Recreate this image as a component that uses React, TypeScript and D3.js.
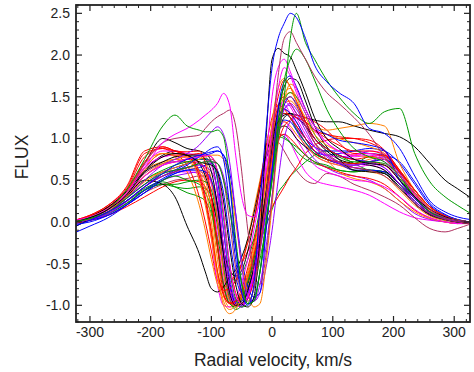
import React from "react";
import * as d3 from "d3";

const VELOCITY = [-325,-300,-270,-240,-210,-180,-160,-140,-120,-110,-100,-90,-80,-70,-60,-50,-40,-30,-20,-10,0,10,20,30,40,55,70,90,110,135,160,185,210,235,260,285,305,325];

const X_TICKS = [-300,-200,-100,0,100,200,300];
const X_TICK_LABELS = ["-300","-200","-100","0","100","200","300"];
const Y_TICKS = [-1.0,-0.5,0.0,0.5,1.0,1.5,2.0,2.5];
const Y_TICK_LABELS = ["-1.0","-0.5","0.0","0.5","1.0","1.5","2.0","2.5"];

const blueTall = [-0.05,0.02,0.12,0.25,0.42,0.58,0.68,0.75, 0.8,0.82,0.84,0.85,0.8,0.45,-0.3,-0.85,-1.0,-0.75,0.2,1.1,1.85,2.2, 2.38,2.5,2.45,2.2,1.88,1.68,1.55,1.42,1.12,1.06,0.88,0.55,0.25,0.12,0.06,0.03];
const greenTall = [0.0,0.04,0.12,0.28,0.45,0.58,0.62,0.65, 0.7,0.72,0.72,0.7,0.5,0.15,-0.3,-0.75,-0.98,-0.95,-0.6,0.0,0.5,1.0, 1.5,2.2,2.5,2.15,1.95,1.7,1.5,1.3,1.18,1.32,1.36,0.82,0.48,0.3,0.2,0.11];
const maroonTall = [0.0,0.03,0.12,0.25,0.42,0.55,0.6,0.65, 0.7,0.72,0.75,0.7,0.5,0.0,-0.55,-0.85,-0.95,-0.8,-0.35,0.3,1.0,1.75, 2.2,2.28,2.15,1.95,1.75,1.55,1.42,1.25,1.05,0.78,0.55,0.35,0.15,0.05,0.02,0.0];
const greenBump = [0.0,0.05,0.15,0.38,0.75,1.15,1.28,1.15, 1.1,1.08,1.08,1.1,1.02,0.5,-0.2,-0.75,-0.98,-0.95,-0.6,0.0,0.5,1.2, 1.7,1.95,2.07,1.95,1.7,1.35,1.1,0.88,0.78,0.72,0.55,0.3,0.12,0.05,0.02,0.0];
const blackTall = [0.0,0.05,0.15,0.32,0.6,0.78,0.82,0.8, 0.72,0.7,0.68,0.6,0.25,-0.3,-0.75,-0.98,-1.02,-0.9,-0.2,1.0,1.95,2.08, 2.02,1.98,1.82,1.55,1.25,1.0,0.88,0.75,0.7,0.68,0.5,0.3,0.15,0.06,0.02,0.0];
const magentaTall = [0.02,0.06,0.16,0.32,0.55,0.68,0.72,0.75, 0.78,0.8,0.78,0.6,0.1,-0.5,-0.88,-0.98,-0.9,-0.6,-0.1,0.7,1.5,1.85, 1.95,1.8,1.6,1.35,1.15,0.95,0.85,0.8,0.82,0.75,0.55,0.32,0.15,0.06,0.02,0.0];
const magentaLeft = [0.0,0.05,0.14,0.35,0.65,0.95,1.05,1.12, 1.22,1.28,1.34,1.42,1.54,1.4,0.8,0.3,0.08,0.06,0.25,0.6,1.1,1.6, 1.85,1.75,1.55,1.3,1.1,0.95,0.85,0.78,0.8,0.72,0.5,0.28,0.12,0.05,0.02,0.0];
const maroonLeft = [0.0,0.04,0.12,0.32,0.7,0.95,1.0,1.02, 1.04,1.12,1.2,1.26,1.3,1.34,1.15,0.6,-0.1,-0.6,-0.75,-0.4,0.3,1.0, 1.45,1.5,1.4,1.15,0.95,0.82,0.72,0.65,0.62,0.55,0.4,0.22,0.1,0.03,0.0,-0.02];
const violetLeft = [0.0,0.03,0.12,0.28,0.5,0.68,0.75,0.82, 0.92,1.0,1.08,1.14,1.05,0.72,0.1,-0.55,-0.88,-0.95,-0.75,-0.3,0.3,1.0, 1.35,1.4,1.3,1.1,0.9,0.78,0.7,0.68,0.7,0.65,0.45,0.25,0.1,0.04,0.01,0.0];
const blue2 = [-0.13,-0.05,0.05,0.2,0.38,0.52,0.6,0.68, 0.78,0.83,0.88,0.9,0.75,0.2,-0.45,-0.85,-0.98,-0.92,-0.6,-0.1,0.6,1.35, 1.68,1.75,1.62,1.35,1.15,1.05,0.98,0.95,0.92,0.86,0.5,0.28,0.12,0.05,0.02,0.0];
const blue3 = [0.0,0.05,0.12,0.28,0.45,0.6,0.65,0.7, 0.78,0.8,0.82,0.85,0.8,0.6,0.1,-0.45,-0.78,-0.9,-0.85,-0.1,0.6,1.1, 1.4,1.5,1.42,1.2,1.0,0.88,0.8,0.75,0.72,0.75,0.6,0.38,0.18,0.07,0.02,0.0];
const blue4 = [-0.03,0.0,0.08,0.2,0.35,0.5,0.58,0.62, 0.62,0.6,0.5,0.2,-0.35,-0.8,-0.97,-0.95,-0.8,-0.55,-0.2,0.3,0.95,1.25, 1.35,1.3,1.2,1.0,0.85,0.75,0.7,0.62,0.62,0.6,0.45,0.25,0.1,0.03,0.0,-0.01];
const blue5 = [0.0,0.03,0.1,0.25,0.42,0.55,0.62,0.7, 0.75,0.75,0.72,0.5,-0.1,-0.7,-0.98,-1.02,-0.9,-0.65,-0.3,0.15,0.75,1.2, 1.3,1.25,1.15,1.0,0.9,0.85,0.85,0.85,0.82,0.8,0.72,0.48,0.22,0.09,0.03,0.0];
const blue6 = [0.0,0.02,0.08,0.2,0.35,0.5,0.58,0.62, 0.65,0.68,0.7,0.62,0.35,-0.2,-0.65,-0.85,-0.85,-0.65,-0.3,0.15,0.65,1.05, 1.22,1.2,1.1,0.95,0.85,0.8,0.82,0.85,0.88,0.85,0.7,0.45,0.2,0.08,0.03,0.0];
const green3 = [0.0,0.03,0.1,0.22,0.38,0.45,0.45,0.48, 0.5,0.48,0.38,0.0,-0.55,-0.92,-1.05,-1.0,-0.82,-0.55,-0.2,0.3,0.85,1.02, 1.0,0.95,0.9,0.8,0.72,0.68,0.62,0.6,0.62,0.6,0.45,0.28,0.12,0.05,0.02,0.0];
const green4 = [0.02,0.05,0.12,0.25,0.38,0.45,0.42,0.4, 0.42,0.4,0.3,-0.05,-0.55,-0.88,-0.95,-0.9,-0.72,-0.5,-0.25,-0.05,0.15,0.35, 0.45,0.55,0.62,0.72,0.8,0.85,0.8,0.7,0.62,0.6,0.45,0.28,0.12,0.05,0.02,0.0];
const green5 = [0.0,0.04,0.12,0.28,0.5,0.62,0.68,0.72, 0.75,0.76,0.72,0.55,0.05,-0.55,-0.92,-1.02,-0.98,-0.8,-0.45,-0.05,0.55,1.1, 1.45,1.55,1.5,1.3,1.05,0.88,0.78,0.72,0.72,0.7,0.52,0.3,0.12,0.05,0.02,0.0];
const green6 = [0.0,0.04,0.12,0.25,0.4,0.48,0.42,0.35, 0.3,0.25,0.1,-0.2,-0.5,-0.66,-0.7,-0.62,-0.45,-0.2,0.15,0.55,0.9,1.05, 1.02,0.95,0.85,0.75,0.7,0.66,0.62,0.6,0.62,0.6,0.45,0.25,0.1,0.04,0.01,0.0];
const green7 = [0.0,0.04,0.1,0.22,0.38,0.5,0.55,0.5, 0.45,0.35,0.15,-0.3,-0.75,-0.98,-1.02,-0.92,-0.72,-0.45,-0.1,0.35,0.9,1.2, 1.3,1.25,1.12,0.95,0.82,0.75,0.72,0.7,0.78,0.75,0.55,0.3,0.12,0.05,0.02,0.0];
const magenta3 = [0.02,0.06,0.16,0.35,0.68,0.85,0.85,0.82, 0.8,0.78,0.68,0.35,-0.3,-0.8,-1.0,-1.02,-0.9,-0.62,-0.25,0.25,0.85,1.3, 1.45,1.38,1.25,1.05,0.9,0.8,0.78,0.8,0.85,0.82,0.6,0.35,0.15,0.06,0.02,0.0];
const magentaLow = [0.0,0.05,0.15,0.3,0.45,0.55,0.6,0.6, 0.58,0.5,0.3,-0.15,-0.7,-0.95,-1.0,-0.92,-0.72,-0.45,-0.1,0.3,0.8,1.0, 1.05,0.95,0.8,0.6,0.5,0.45,0.42,0.38,0.32,0.22,0.12,0.05,0.02,0.0,-0.01,0.0];
const magenta4 = [0.0,0.06,0.18,0.38,0.65,0.78,0.8,0.78, 0.55,0.25,-0.2,-0.75,-1.0,-1.02,-0.92,-0.72,-0.45,-0.1,0.3,0.75,1.15,1.35, 1.4,1.3,1.15,0.95,0.8,0.72,0.68,0.65,0.68,0.62,0.45,0.25,0.1,0.04,0.01,0.0];
const magenta5 = [0.0,0.05,0.15,0.35,0.62,0.78,0.8,0.76, 0.7,0.62,0.45,0.05,-0.5,-0.88,-1.0,-0.98,-0.85,-0.6,-0.25,0.2,0.7,1.05, 1.2,1.12,1.0,0.82,0.68,0.6,0.55,0.5,0.48,0.42,0.3,0.15,0.05,0.0,-0.02,-0.02];
const violet2 = [0.0,0.03,0.1,0.25,0.42,0.55,0.6,0.65, 0.7,0.72,0.72,0.7,0.55,0.2,-0.3,-0.7,-0.9,-0.95,-0.85,-0.55,-0.1,0.5, 1.0,1.2,1.25,1.15,1.0,0.88,0.8,0.75,0.72,0.65,0.45,0.22,0.09,0.03,0.01,0.0];
const violet3 = [-0.02,0.02,0.1,0.22,0.38,0.5,0.55,0.58, 0.6,0.58,0.48,0.15,-0.4,-0.82,-0.98,-1.0,-0.88,-0.62,-0.3,0.15,0.7,1.15, 1.3,1.25,1.1,0.9,0.75,0.65,0.58,0.55,0.5,0.4,0.25,0.1,0.03,0.0,-0.02,-0.02];
const violet4 = [0.0,0.03,0.1,0.24,0.42,0.58,0.62,0.65, 0.68,0.66,0.6,0.4,-0.1,-0.65,-0.95,-1.0,-0.92,-0.7,-0.35,0.1,0.65,1.1, 1.35,1.42,1.35,1.15,0.95,0.8,0.72,0.68,0.72,0.78,0.58,0.32,0.12,0.04,0.01,0.0];
const redHigh = [0.02,0.08,0.2,0.4,0.82,0.88,0.85,0.84, 0.85,0.7,0.3,-0.3,-0.85,-0.98,-0.95,-0.8,-0.55,-0.25,0.1,0.55,1.1,1.5, 1.7,1.62,1.45,1.2,1.0,0.88,0.8,0.75,0.78,0.8,0.6,0.38,0.18,0.07,0.02,0.0];
const redSlow = [0.0,0.06,0.16,0.36,0.65,0.82,0.8,0.68, 0.3,0.0,-0.35,-0.7,-0.78,-0.75,-0.62,-0.5,-0.35,-0.22,-0.08,0.05,0.18,0.3, 0.42,0.55,0.65,0.82,0.92,0.98,1.0,1.0,0.98,0.86,0.62,0.38,0.18,0.07,0.02,0.0];
const red3 = [0.0,0.05,0.15,0.33,0.55,0.68,0.72,0.75, 0.72,0.6,0.3,-0.25,-0.75,-0.98,-1.0,-0.88,-0.65,-0.4,-0.1,0.25,0.6,0.95, 1.15,1.22,1.28,1.25,1.2,1.1,0.95,0.82,0.82,0.78,0.58,0.33,0.14,0.05,0.02,0.0];
const red4 = [0.02,0.06,0.16,0.36,0.72,0.9,0.85,0.8, 0.82,0.8,0.78,0.6,0.1,-0.5,-0.85,-0.98,-0.92,-0.7,-0.3,0.3,1.0,1.4, 1.5,1.42,1.3,1.2,1.1,1.05,1.02,1.0,0.95,0.85,0.62,0.38,0.18,0.07,0.02,0.0];
const red5 = [-0.02,0.02,0.08,0.18,0.3,0.42,0.48,0.5, 0.48,0.42,0.2,-0.3,-0.78,-0.97,-0.98,-0.88,-0.65,-0.38,-0.05,0.35,0.8,1.0, 1.05,1.0,0.92,0.8,0.72,0.65,0.6,0.55,0.52,0.45,0.3,0.14,0.05,0.0,-0.02,-0.01];
const red6 = [0.0,0.07,0.18,0.38,0.78,0.88,0.82,0.8, 0.6,0.3,-0.1,-0.6,-0.82,-0.8,-0.7,-0.5,-0.25,0.0,0.45,0.9,1.25,1.4, 1.35,1.25,1.15,1.0,0.85,0.75,0.72,0.7,0.72,0.68,0.5,0.28,0.12,0.05,0.02,0.0];
const red7 = [0.02,0.08,0.2,0.42,0.85,0.9,0.85,0.8, 0.55,0.25,-0.15,-0.6,-0.88,-0.97,-0.95,-0.85,-0.65,-0.4,-0.1,0.3,0.8,1.15, 1.3,1.28,1.25,1.2,1.1,1.0,0.92,0.85,0.85,0.8,0.6,0.38,0.18,0.07,0.02,0.0];
const orange1 = [0.0,0.06,0.16,0.35,0.65,0.82,0.8,0.78, 0.5,0.2,-0.2,-0.65,-1.0,-1.1,-1.05,-0.9,-0.65,-0.35,0.0,0.5,1.2,1.6, 1.72,1.62,1.45,1.25,1.05,0.92,0.85,0.8,0.78,0.75,0.55,0.32,0.14,0.05,0.02,0.0];
const orange2 = [0.0,0.04,0.12,0.3,0.48,0.6,0.65,0.7, 0.75,0.78,0.8,0.8,0.75,0.5,0.0,-0.5,-0.85,-1.02,-0.98,-0.5,0.2,0.95, 1.45,1.65,1.6,1.35,1.15,1.1,1.12,1.15,1.18,1.15,0.7,0.38,0.18,0.07,0.02,0.0];
const orange3 = [0.02,0.07,0.18,0.36,0.7,0.82,0.78,0.6, 0.2,-0.1,-0.45,-0.75,-0.9,-0.88,-0.75,-0.5,-0.2,0.15,0.5,0.85,1.1,1.2, 1.2,1.15,1.05,0.92,0.8,0.72,0.68,0.62,0.6,0.55,0.38,0.2,0.07,0.02,0.0,-0.02];
const orange4 = [0.0,0.05,0.15,0.32,0.5,0.6,0.62,0.65, 0.62,0.5,0.15,-0.45,-0.88,-1.02,-1.0,-0.88,-0.68,-0.45,-0.15,0.25,0.8,1.25, 1.5,1.55,1.45,1.2,0.95,0.75,0.6,0.52,0.48,0.4,0.25,0.12,0.04,0.0,-0.02,-0.02];
const orange5 = [0.0,0.06,0.16,0.36,0.62,0.72,0.75,0.72, 0.6,0.4,0.0,-0.6,-0.95,-1.05,-1.0,-0.85,-0.6,-0.3,0.05,0.45,0.95,1.35, 1.55,1.6,1.5,1.2,1.08,1.05,1.0,0.95,0.9,0.82,0.6,0.35,0.14,0.05,0.02,0.0];
const orange6 = [0.0,0.05,0.14,0.3,0.55,0.7,0.75,0.78, 0.78,0.72,0.5,0.0,-0.6,-0.95,-1.02,-0.95,-0.78,-0.52,-0.2,0.2,0.75,1.2, 1.42,1.45,1.38,1.15,0.95,0.8,0.72,0.7,0.75,0.78,0.62,0.38,0.16,0.06,0.02,0.0];
const blackEarly = [-0.06,0.03,0.12,0.3,0.5,0.45,0.3,-0.05, -0.38,-0.6,-0.8,-0.84,-0.78,-0.66,-0.58,-0.42,-0.2,0.1,0.45,0.8,1.05,1.2, 1.28,1.3,1.25,1.15,1.0,0.85,0.75,0.7,0.68,0.62,0.45,0.25,0.1,0.03,0.0,-0.02];
const blackHighTail = [0.0,0.06,0.17,0.36,0.7,1.0,0.95,0.88, 0.85,0.82,0.72,0.35,-0.3,-0.78,-0.95,-0.92,-0.75,-0.5,-0.15,0.3,0.8,1.1, 1.25,1.3,1.28,1.25,1.22,1.2,1.2,1.15,1.1,1.06,1.02,0.9,0.7,0.5,0.4,0.3];
const black3 = [0.0,0.06,0.18,0.36,0.6,0.72,0.78,0.8, 0.8,0.75,0.6,0.2,-0.4,-0.85,-1.0,-0.98,-0.82,-0.55,-0.15,0.35,0.9,1.35, 1.62,1.72,1.7,1.45,1.15,0.9,0.75,0.62,0.6,0.58,0.42,0.22,0.09,0.03,0.0,-0.01];
const black4 = [0.0,0.06,0.16,0.35,0.62,0.8,0.85,0.8, 0.7,0.55,0.3,0.0,-0.35,-0.58,-0.65,-0.58,-0.35,0.0,0.4,0.75,0.95,1.1, 1.15,1.1,1.0,0.9,0.82,0.75,0.7,0.65,0.62,0.58,0.4,0.22,0.08,0.02,0.0,-0.02];
const maroon3 = [0.0,0.02,0.08,0.2,0.35,0.45,0.5,0.52, 0.55,0.55,0.48,0.2,-0.3,-0.75,-0.92,-0.95,-0.85,-0.6,-0.25,0.2,0.7,0.95, 0.85,0.72,0.62,0.5,0.46,0.58,0.55,0.45,0.38,0.3,0.2,0.05,-0.08,-0.12,-0.08,-0.03];
const maroon4 = [0.0,0.05,0.15,0.33,0.58,0.7,0.72,0.72, 0.7,0.65,0.5,0.05,-0.6,-0.92,-1.0,-0.9,-0.7,-0.45,-0.1,0.35,0.9,1.25, 1.35,1.3,1.2,1.0,0.85,0.75,0.7,0.68,0.72,0.75,0.55,0.3,0.12,0.05,0.02,0.0];

const BLACK = "#000000";
const BLUE = "#0000ff";
const GREEN = "#009a00";
const MAGENTA = "#ff00ff";
const VIOLET = "#9a00ff";
const RED = "#ff0000";
const ORANGE = "#ff8000";
const MAROON = "#b03060";

const SERIES: { values: number[]; color: string }[] = [
  { values: green4, color: GREEN },
  { values: magentaLow, color: MAGENTA },
  { values: maroon3, color: MAROON },
  { values: redSlow, color: RED },
  { values: blackHighTail, color: BLACK },
  { values: green6, color: GREEN },
  { values: violet3, color: VIOLET },
  { values: red5, color: RED },
  { values: orange4, color: ORANGE },
  { values: blue5, color: BLUE },
  { values: magenta5, color: MAGENTA },
  { values: black4, color: BLACK },
  { values: magenta4, color: MAGENTA },
  { values: orange3, color: ORANGE },
  { values: green3, color: GREEN },
  { values: blue6, color: BLUE },
  { values: red3, color: RED },
  { values: maroon4, color: MAROON },
  { values: orange6, color: ORANGE },
  { values: blue4, color: BLUE },
  { values: violet2, color: VIOLET },
  { values: green7, color: GREEN },
  { values: blackEarly, color: BLACK },
  { values: red6, color: RED },
  { values: magenta3, color: MAGENTA },
  { values: violet4, color: VIOLET },
  { values: orange5, color: ORANGE },
  { values: red4, color: RED },
  { values: blue3, color: BLUE },
  { values: red7, color: RED },
  { values: green5, color: GREEN },
  { values: orange2, color: ORANGE },
  { values: black3, color: BLACK },
  { values: redHigh, color: RED },
  { values: orange1, color: ORANGE },
  { values: violetLeft, color: VIOLET },
  { values: maroonLeft, color: MAROON },
  { values: magentaLeft, color: MAGENTA },
  { values: blue2, color: BLUE },
  { values: magentaTall, color: MAGENTA },
  { values: greenBump, color: GREEN },
  { values: blackTall, color: BLACK },
  { values: maroonTall, color: MAROON },
  { values: greenTall, color: GREEN },
  { values: blueTall, color: BLUE },
];

const W = 474, H = 372;
const L = 76, R = 470, T = 5, B = 322;
const FONT = "'Liberation Sans', Arial, Helvetica, sans-serif";

export default function App() {
  const x = d3.scaleLinear().domain([-323, 326]).range([L, R]);
  const y = d3.scaleLinear().domain([-1.2, 2.6]).range([B, T]);
  const line = d3
    .line<number>()
    .x((_, i) => x(VELOCITY[i]))
    .y((d) => y(d))
    .curve(d3.curveMonotoneX);

  const xMinor = d3.range(-320, 321, 20).filter((v) => v % 100 !== 0);
  const yMinor = d3.range(-12, 27, 1).map((v) => v / 10).filter((v) => Math.abs(Math.round(v * 10) % 5) !== 0);
  const tickColor = "#222";

  return (
    <svg width={W} height={H} style={{ position: "absolute", left: 0, top: 0, background: "#fff" }}>
      <defs>
        <clipPath id="plotclip">
          <rect x={L} y={T} width={R - L} height={B - T} />
        </clipPath>
      </defs>
      <g clipPath="url(#plotclip)">
        {SERIES.map((s, i) => (
          <path key={i} d={line(s.values) || ""} fill="none" stroke={s.color} strokeWidth={1} strokeLinejoin="round" />
        ))}
      </g>
      <g stroke={tickColor}>
        {X_TICKS.map((v) => (
          <g key={"xt" + v}>
            <line x1={x(v)} x2={x(v)} y1={B} y2={B - 6} strokeWidth={1.2} />
            <line x1={x(v)} x2={x(v)} y1={T} y2={T + 6} strokeWidth={1.2} />
          </g>
        ))}
        {xMinor.map((v) => (
          <g key={"xm" + v}>
            <line x1={x(v)} x2={x(v)} y1={B} y2={B - 3} strokeWidth={1} />
            <line x1={x(v)} x2={x(v)} y1={T} y2={T + 3} strokeWidth={1} />
          </g>
        ))}
        {Y_TICKS.map((v) => (
          <g key={"yt" + v}>
            <line x1={L} x2={L + 6} y1={y(v)} y2={y(v)} strokeWidth={1.2} />
            <line x1={R} x2={R - 6} y1={y(v)} y2={y(v)} strokeWidth={1.2} />
          </g>
        ))}
        {yMinor.map((v) => (
          <g key={"ym" + v}>
            <line x1={L} x2={L + 3} y1={y(v)} y2={y(v)} strokeWidth={1} />
            <line x1={R} x2={R - 3} y1={y(v)} y2={y(v)} strokeWidth={1} />
          </g>
        ))}
      </g>
      <rect x={L} y={T} width={R - L} height={B - T} fill="none" stroke={tickColor} strokeWidth={1.8} />
      <g fontFamily={FONT} fontSize={14} fill="#222">
        {X_TICKS.map((v, i) => (
          <text key={"xl" + v} x={x(v)} y={337} textAnchor="middle">{X_TICK_LABELS[i]}</text>
        ))}
        {Y_TICKS.map((v, i) => (
          <text key={"yl" + v} x={70} y={y(v) + 5} textAnchor="end">{Y_TICK_LABELS[i]}</text>
        ))}
      </g>
      <text x={273} y={366} textAnchor="middle" fontFamily={FONT} fontSize={17.5} fill="#222">Radial velocity, km/s</text>
      <text transform="translate(28,157) rotate(-90)" textAnchor="middle" fontFamily={FONT} fontSize={17.5} fill="#222">FLUX</text>
    </svg>
  );
}
